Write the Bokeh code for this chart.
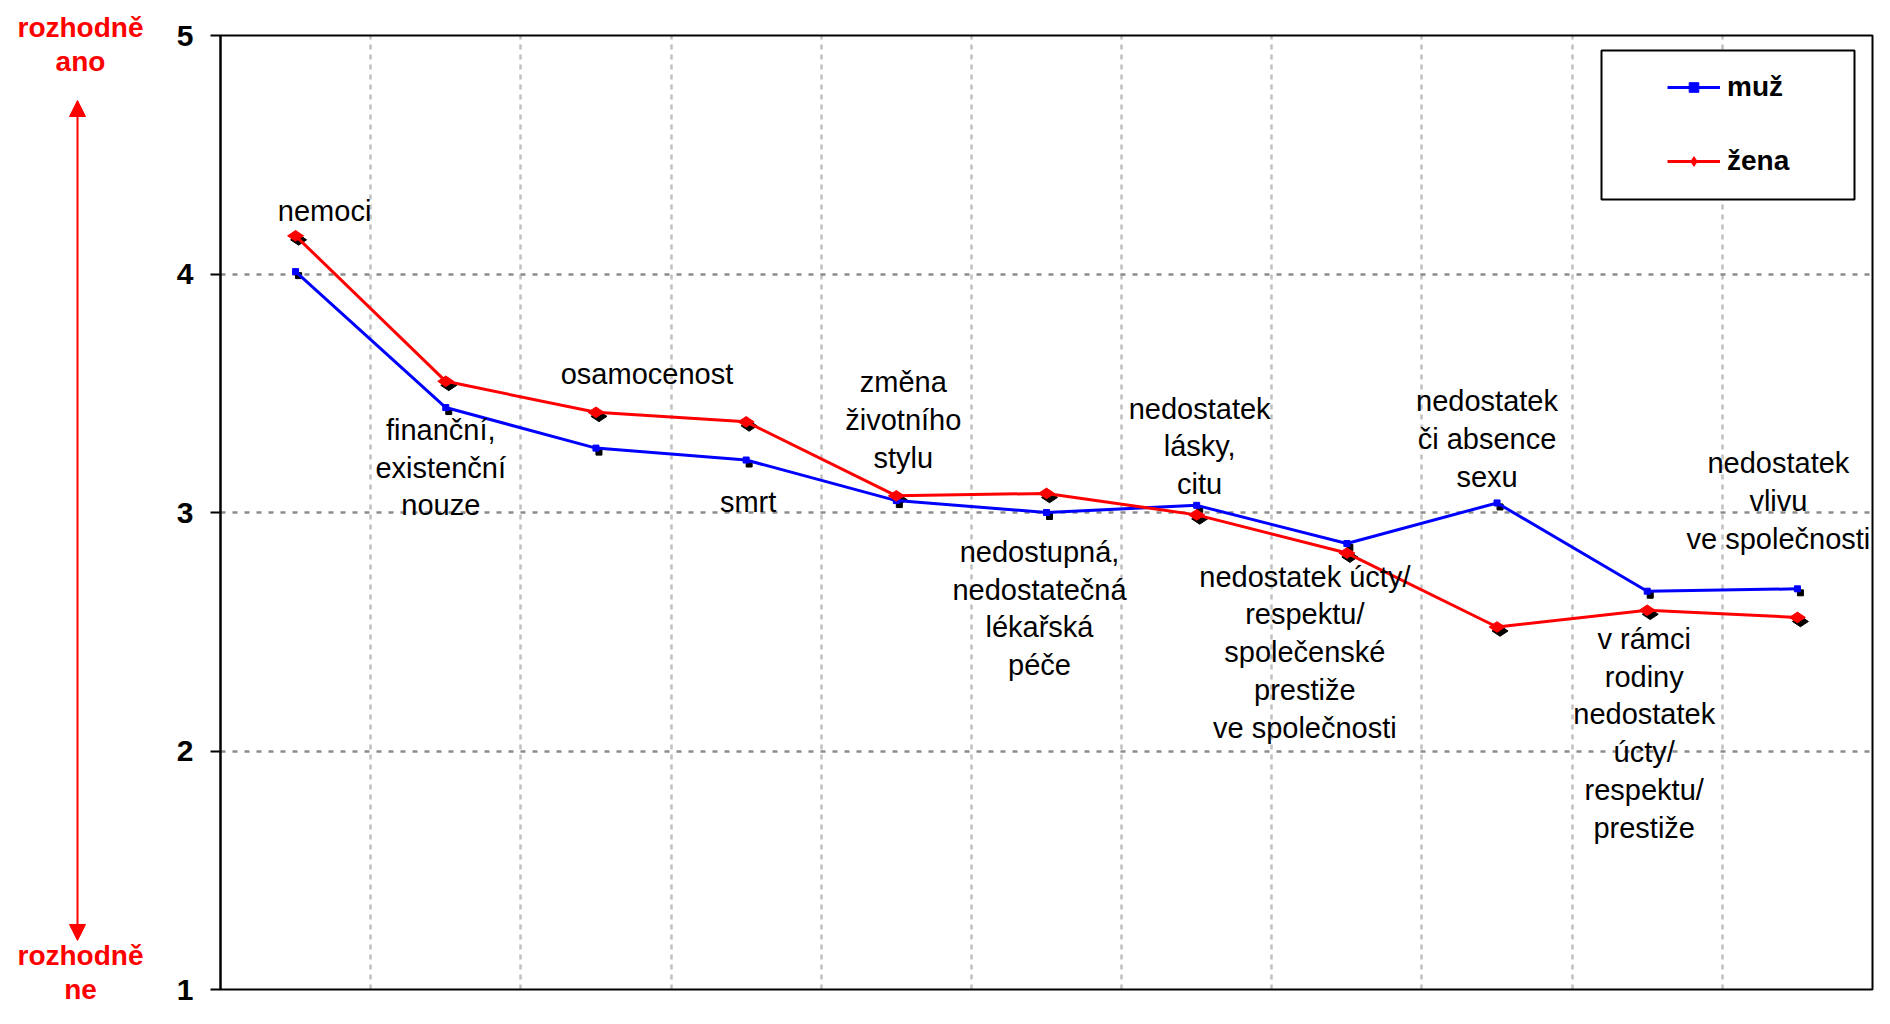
import numpy as np
from bokeh.plotting import figure
from bokeh.models import (ColumnDataSource, Range1d, FixedTicker, Label, Arrow, NormalHead,
                          BoxAnnotation, Legend, LegendItem)
from bokeh.transform import dodge
from bokeh.core.properties import value
from bokeh.embed import file_html
from bokeh.resources import INLINE

# ---------------- data ----------------
categories = [
    "nemoci",
    "finanční,\nexistenční\nnouze",
    "osamocenost",
    "smrt",
    "změna\nživotního\nstylu",
    "nedostupná,\nnedostatečná\nlékařská\npéče",
    "nedostatek\nlásky,\ncitu",
    "nedostatek úcty/\nrespektu/\nspolečenské\nprestiže\nve společnosti",
    "nedostatek\nči absence\nsexu",
    "v rámci\nrodiny\nnedostatek\núcty/\nrespektu/\nprestiže",
    "nedostatek\nvlivu\nve společnosti",
]
muz = [4.01, 3.44, 3.27, 3.22, 3.05, 3.00, 3.03, 2.87, 3.04, 2.67, 2.68]
zena = [4.16, 3.55, 3.42, 3.38, 3.07, 3.08, 2.99, 2.83, 2.52, 2.59, 2.56]
series_names = ["muž", "žena"]
y_ticks = [1, 2, 3, 4, 5]
scale_top = "rozhodně\nano"
scale_bottom = "rozhodně\nne"

# ---------------- layout / style ----------------
W, H = 1874, 1008
PLOT_L, PLOT_R, PLOT_T, PLOT_B = 220, 1872, 35, 989   # pixel box of the value area
n = len(categories)
PX_X = (PLOT_R - PLOT_L) / n
PX_Y = (PLOT_B - PLOT_T) / (y_ticks[-1] - y_ticks[0])

# label placement: which series point the label hangs from, and pixel offsets
label_anchor = ["z", "m", "z", "m", "z", "m", "m", "z", "m", "z", "m"]
label_dx = [29, -5, 51, 2, 7, -7, 3, -42, -10, -3, -19]
label_dy = [-25, 60, -38, 42, -76, 96, -59, 99, -64, 123, -88]

FONT = "Liberation Sans"
BLUE = "#0000FF"
RED = "#FF0000"

x = np.arange(n) + 0.5
src = ColumnDataSource(dict(
    x=x, muz=muz, zena=zena,
    label=categories,
    ly=[zena[i] if a == "z" else muz[i] for i, a in enumerate(label_anchor)],
    dx=label_dx, dy=label_dy,
))

x_range = Range1d(-PLOT_L / PX_X, n + (W - PLOT_R) / PX_X)
y_range = Range1d(y_ticks[0] - (H - PLOT_B) / PX_Y, y_ticks[-1] + PLOT_T / PX_Y)

p = figure(frame_width=W, frame_height=H, x_range=x_range, y_range=y_range,
           title=None, output_backend="svg", toolbar_location=None,
           min_border_left=0, min_border_right=0, min_border_top=0, min_border_bottom=0,
           background_fill_color="white", border_fill_color="white")
p.outline_line_color = None
p.xaxis.visible = False

ya = p.yaxis[0]
ya.fixed_location = 0
ya.bounds = (y_ticks[0], y_ticks[-1])
ya.ticker = FixedTicker(ticks=y_ticks)
ya.major_label_text_font = FONT
ya.major_label_text_font_size = "30px"
ya.major_label_text_font_style = "bold"
ya.major_label_text_color = "black"
ya.axis_line_color = "black"
ya.axis_line_width = 2
ya.major_tick_line_color = "black"
ya.major_tick_line_width = 2
ya.major_tick_out = 10
ya.major_tick_in = 0
ya.minor_tick_out = 0
ya.minor_tick_in = 0
ya.major_label_standoff = 17

p.ygrid.ticker = FixedTicker(ticks=y_ticks[1:-1])
p.ygrid.cross_bounds = (0, n)
p.ygrid.grid_line_color = "#8c8c8c"
p.ygrid.grid_line_dash = "5 7"
p.ygrid.grid_line_width = 2.5

p.xgrid.ticker = FixedTicker(ticks=list(range(1, n)))
p.xgrid.cross_bounds = (y_ticks[0], y_ticks[-1])
p.xgrid.grid_line_color = "#c0c0c0"
p.xgrid.grid_line_dash = "5 5"
p.xgrid.grid_line_width = 2.5

# plot-area border
p.add_layout(BoxAnnotation(left=0, right=n, bottom=y_ticks[0], top=y_ticks[-1],
                           fill_alpha=0, line_color="black", line_width=2, line_alpha=1,
                           level="underlay"))

# shadows of markers
SH_DX, SH_DY = 3 / PX_X, -4 / PX_Y
p.scatter(x=dodge("x", SH_DX), y=dodge("muz", SH_DY), source=src, marker="square",
          size=6, fill_color="black", line_color="black")
p.scatter(x=dodge("x", SH_DX), y=dodge("zena", SH_DY), source=src, marker="diamond",
          angle=np.pi / 2, size=16, fill_color="black", line_color="black")

# series
l_m = p.line("x", "muz", source=src, line_color=BLUE, line_width=3)
l_z = p.line("x", "zena", source=src, line_color=RED, line_width=3)
s_m = p.scatter("x", "muz", source=src, marker="square", size=6,
                fill_color=BLUE, line_color=BLUE)
s_z = p.scatter("x", "zena", source=src, marker="diamond", angle=np.pi / 2, size=16,
                fill_color=RED, line_color=RED)

# category labels
p.text(x="x", y="ly", text="label", x_offset="dx", y_offset="dy", source=src,
       text_align="center", text_baseline="middle", text_font=value(FONT),
       text_font_size="29px", text_line_height=1.18, text_color="black")

# legend box + legend
box = BoxAnnotation(left=n - 271 / PX_X, right=n - 18 / PX_X,
                    top=y_ticks[-1] - 15 / PX_Y, bottom=y_ticks[-1] - 164 / PX_Y,
                    fill_color="white", fill_alpha=1, line_color="black", line_width=2,
                    line_alpha=1)
p.add_layout(box)

legend = Legend(items=[LegendItem(label=series_names[0], renderers=[l_m, s_m]),
                       LegendItem(label=series_names[1], renderers=[l_z, s_z])],
                location=(PLOT_R - 205, H - 71 - 106),
                padding=0, margin=0, spacing=42, glyph_width=53, glyph_height=24,
                label_height=24, label_standoff=7, label_text_font=FONT,
                label_text_font_size="28px", label_text_font_style="bold",
                label_text_color="black",
                border_line_alpha=0, background_fill_alpha=0)
p.add_layout(legend)

# left scale annotation (red arrow "rozhodně ano" / "rozhodně ne")
ax = (77 - PLOT_L) / PX_X
arrow = Arrow(x_start=ax, y_start=y_ticks[0] + 49 / PX_Y, x_end=ax, y_end=y_ticks[-1] - 65 / PX_Y,
              line_color=RED, line_width=2,
              start=NormalHead(size=16, fill_color=RED, line_color=RED),
              end=NormalHead(size=16, fill_color=RED, line_color=RED))
p.add_layout(arrow)

lx = (80 - PLOT_L) / PX_X
for txt, yy in [(scale_top, y_ticks[-1] - 9 / PX_Y), (scale_bottom, y_ticks[0] + 17 / PX_Y)]:
    p.add_layout(Label(x=lx, y=yy, text=txt, text_align="center",
                       text_baseline="middle", text_font=FONT, text_font_size="28px",
                       text_font_style="bold", text_color=RED, text_line_height=1.1))

open("out.html", "w").write(file_html(p, INLINE))
